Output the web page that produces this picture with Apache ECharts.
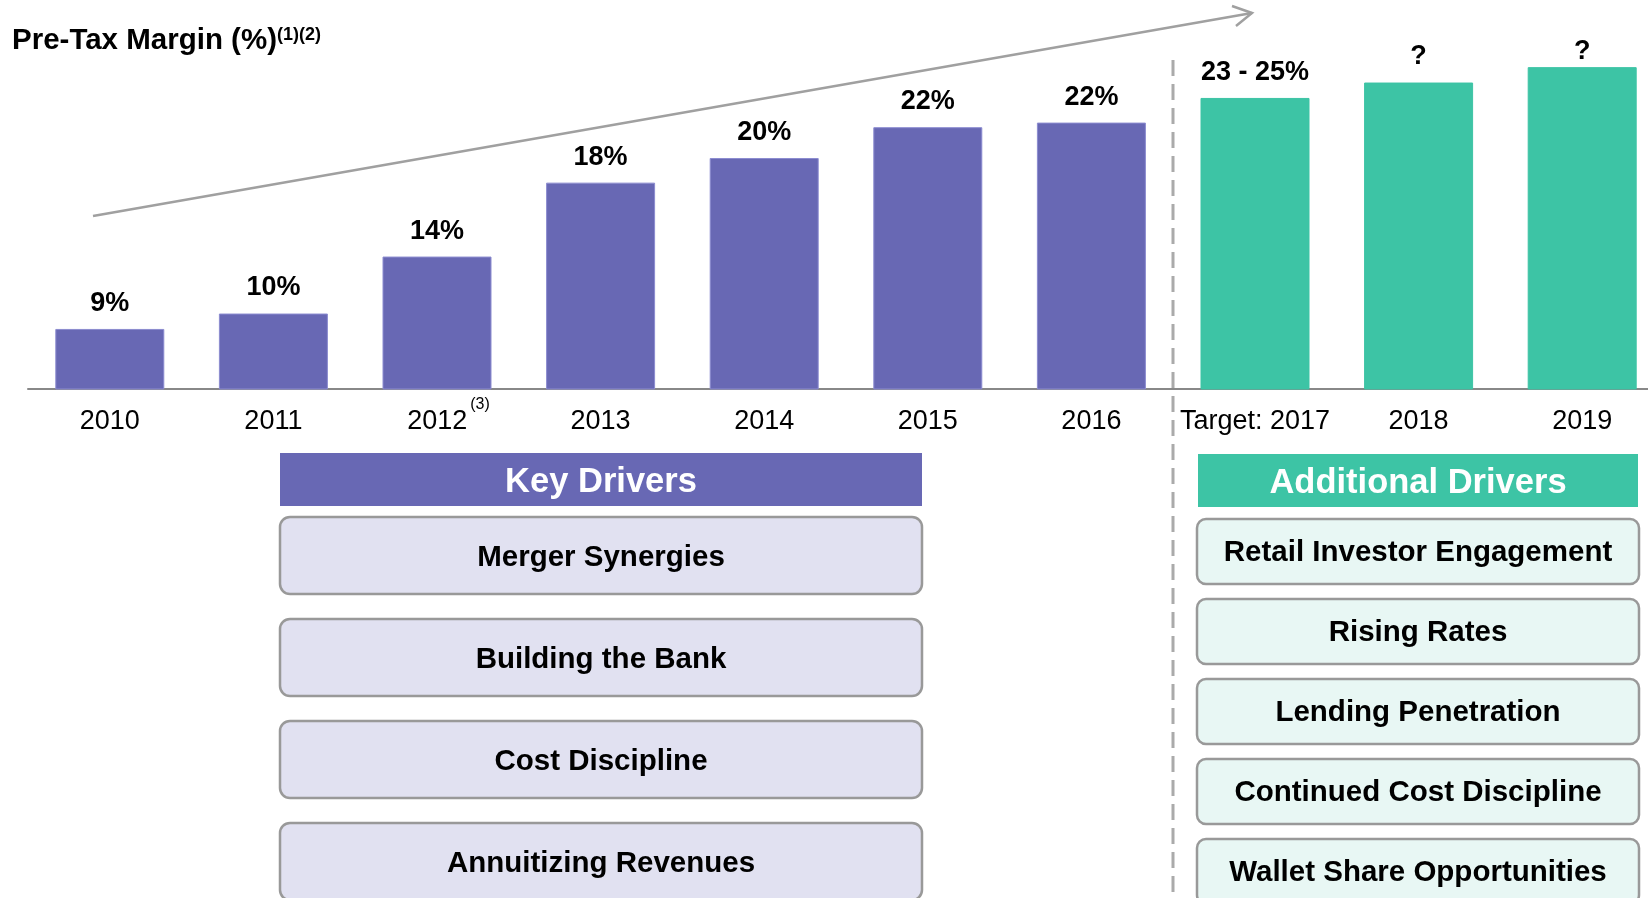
<!DOCTYPE html>
<html>
<head>
<meta charset="utf-8">
<script src="https://cdn.jsdelivr.net/npm/echarts@6/dist/echarts.min.js"></script>
<style>
  html, body { margin: 0; padding: 0; background: #fff; overflow: hidden; }
  #chart { width: 1664px; height: 898px; }
</style>
</head>
<body>
<div id="chart"></div>
<script>
// chart data
const years = ['2010', '2011', '2012', '2013', '2014', '2015', '2016', 'Target: 2017', '2018', '2019']
const footnotes = ['', '', '(3)', '', '', '', '', '', '', '']
const margins = [8.9, 9.9, 13.6, 18.4, 20.0, 22.0, 22.3, 23.9, 24.9, 25.9]
const marginLabels = ['9%', '10%', '14%', '18%', '20%', '22%', '22%', '23 - 25%', '?', '?']
const actualCount = 7
const keyDrivers = ['Merger Synergies', 'Building the Bank', 'Cost Discipline', 'Annuitizing Revenues']
const additionalDrivers = ['Retail Investor Engagement', 'Rising Rates', 'Lending Penetration', 'Continued Cost Discipline', 'Wallet Share Opportunities']

const FONT = '"Liberation Sans", Arial, sans-serif'
const PURPLE = '#6868b4'
const GREEN = '#3dc4a5'

let graphics = []

// title with footnote marks
graphics.push({
  type: 'text', x: 12, y: 41,
  style: { text: 'Pre-Tax Margin (%)', font: 'bold 29.5px ' + FONT, fill: '#000', verticalAlign: 'middle' }
})
graphics.push({
  type: 'text', x: 277, y: 35,
  style: { text: '(1)(2)', font: 'bold 18px ' + FONT, fill: '#000', verticalAlign: 'middle' }
})

// growth arrow
graphics.push({
  type: 'polyline',
  shape: { points: [[93, 216], [1252, 13]] },
  style: { stroke: '#a0a0a0', lineWidth: 2.5, fill: null }
})
graphics.push({
  type: 'polyline',
  shape: { points: [[1232, 6], [1252, 13], [1236, 26]] },
  style: { stroke: '#a0a0a0', lineWidth: 2.5, fill: null }
})

// divider between actuals and targets
graphics.push({
  type: 'line',
  shape: { x1: 1173, y1: 60, x2: 1173, y2: 898 },
  style: { stroke: '#aaaaaa', lineWidth: 3, lineDash: [16, 8] }
})

// driver headers
graphics.push({ type: 'rect', shape: { x: 280, y: 453, width: 642, height: 53 }, style: { fill: PURPLE } })
graphics.push({
  type: 'text', x: 601, y: 482,
  style: { text: 'Key Drivers', font: 'bold 34.5px ' + FONT, fill: '#fff', align: 'center', verticalAlign: 'middle' }
})
graphics.push({ type: 'rect', shape: { x: 1198, y: 454, width: 440, height: 53 }, style: { fill: GREEN } })
graphics.push({
  type: 'text', x: 1418, y: 483,
  style: { text: 'Additional Drivers', font: 'bold 34.5px ' + FONT, fill: '#fff', align: 'center', verticalAlign: 'middle' }
})

// driver boxes
keyDrivers.forEach((name, i) => {
  let top = 517 + i * 102
  graphics.push({
    type: 'rect',
    shape: { x: 280, y: top, width: 642, height: 77, r: 10 },
    style: { fill: '#e1e1f1', stroke: '#999999', lineWidth: 2.5 }
  })
  graphics.push({
    type: 'text', x: 601, y: top + 40.5,
    style: { text: name, font: 'bold 29.5px ' + FONT, fill: '#000', align: 'center', verticalAlign: 'middle' }
  })
})
additionalDrivers.forEach((name, i) => {
  let top = 519 + i * 80
  graphics.push({
    type: 'rect',
    shape: { x: 1197, y: top, width: 442, height: 65, r: 9 },
    style: { fill: '#e8f7f4', stroke: '#999999', lineWidth: 2.5 }
  })
  graphics.push({
    type: 'text', x: 1418, y: top + 33.5,
    style: { text: name, font: 'bold 29.5px ' + FONT, fill: '#000', align: 'center', verticalAlign: 'middle' }
  })
})

let option = {
  animation: false,
  grid: { left: 28, right: 0, top: 4, bottom: 509 },
  xAxis: {
    type: 'category',
    data: years,
    axisTick: { show: false },
    axisLine: { lineStyle: { color: '#888888', width: 2 } },
    axisLabel: {
      interval: 0,
      margin: 8,
      formatter: (value, index) => {
        if (footnotes[index]) {
          return '{pad|}{a|' + value + '}{sup|' + footnotes[index] + '}'
        }
        return '{a|' + value + '}'
      },
      rich: {
        a: { fontFamily: FONT, fontSize: 27, color: '#000', lineHeight: 50 },
        pad: { width: 23, lineHeight: 50 },
        sup: { fontFamily: FONT, fontSize: 16, color: '#000', lineHeight: 16, verticalAlign: 'top', padding: [0, 0, 0, 3] }
      }
    }
  },
  yAxis: {
    type: 'value',
    min: 5,
    max: 30,
    show: false
  },
  series: [{
    type: 'bar',
    barWidth: 109,
    silent: true,
    data: margins.map((v, i) => ({
      value: v,
      itemStyle: {
        color: i < actualCount ? PURPLE : GREEN,
        borderColor: i < actualCount ? '#8c8cd0' : GREEN,
        borderWidth: 1
      },
      // the last label sits closer to its bar in the original
      label: i === margins.length - 1 ? { distance: 2 } : undefined
    })),
    label: {
      show: true,
      position: 'top',
      distance: 12,
      formatter: p => marginLabels[p.dataIndex],
      fontFamily: FONT,
      fontSize: 27,
      fontWeight: 'bold',
      color: '#000'
    }
  }],
  graphic: graphics
}

let chart = echarts.init(document.getElementById('chart'))
chart.setOption(option)
</script>
</body>
</html>
